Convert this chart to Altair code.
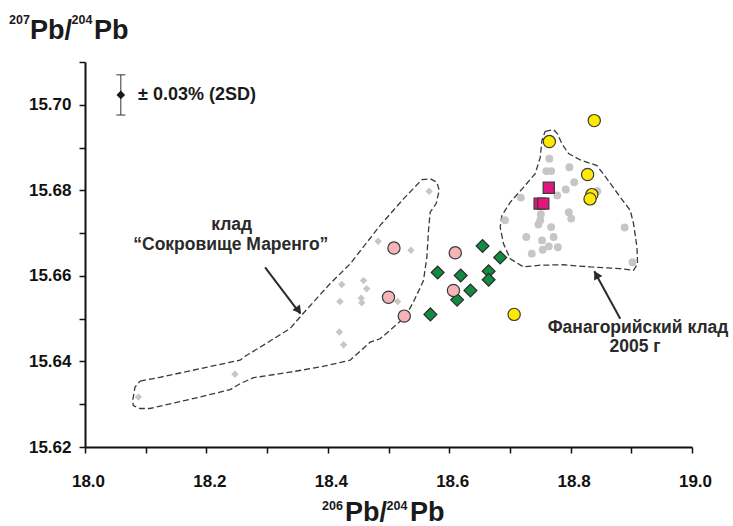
import altair as alt
import pandas as pd

FONT = "Liberation Sans"

# ---- Data ----
# Marengo treasure (grey diamonds)
mar_x = [18.567, 18.483, 18.537, 18.423, 18.459, 18.464, 18.420, 18.455, 18.456, 18.515, 18.419, 18.426, 18.247, 18.088]
mar_y = [15.6798, 15.6681, 15.6660, 15.6580, 15.6589, 15.6570, 15.6540, 15.6548, 15.6537, 15.6540, 15.6469, 15.6439, 15.6370, 15.6317]

# Phanagoria hoard 2005 (grey circles)
fan_x = [18.765, 18.760, 18.768, 18.798, 18.806, 18.792, 18.778, 18.718, 18.751, 18.750, 18.747, 18.797, 18.801,
         18.692, 18.768, 18.727, 18.772, 18.753, 18.764, 18.754, 18.779, 18.736, 18.889, 18.902, 18.844]
fan_y = [15.6874, 15.6845, 15.6845, 15.6854, 15.6819, 15.6802, 15.6788, 15.6783, 15.6744, 15.6730, 15.6720, 15.6749, 15.6734,
         15.6730, 15.6714, 15.6691, 15.6691, 15.6683, 15.6669, 15.6661, 15.6667, 15.6652, 15.6713, 15.6632, 15.6798]

# Pink circles
pink_x = [18.509, 18.610, 18.500, 18.607, 18.526]
pink_y = [15.6665, 15.6654, 15.6550, 15.6566, 15.6506]

# Green diamonds
green_x = [18.655, 18.684, 18.581, 18.619, 18.665, 18.665, 18.635, 18.613, 18.569]
green_y = [15.6670, 15.6643, 15.6608, 15.6601, 15.6611, 15.6591, 15.6566, 15.6544, 15.6510]

# Yellow circles
yel_x = [18.839, 18.765, 18.828, 18.835, 18.832, 18.707]
yel_y = [15.6963, 15.6914, 15.6837, 15.6790, 15.6780, 15.6510]

# Magenta squares
mag_x = [18.764, 18.749, 18.755]
mag_y = [15.6806, 15.6769, 15.6769]

# Outline of the Marengo field
mo_x = [18.0907, 18.1236, 18.1896, 18.2555, 18.2637, 18.2995, 18.3379, 18.3593, 18.4038, 18.4368, 18.4862, 18.5246,
        18.5550, 18.5686, 18.5797, 18.5835, 18.5785, 18.5686, 18.5659, 18.5632, 18.5576, 18.5411, 18.5274, 18.5027,
        18.4862, 18.4698, 18.4368, 18.3873, 18.3379, 18.2774, 18.2555, 18.2390, 18.1896, 18.1071, 18.0907, 18.0796,
        18.0786, 18.0824, 18.0907]
mo_y = [15.6354, 15.6363, 15.6383, 15.6403, 15.6412, 15.6443, 15.6477, 15.6512, 15.6582, 15.6628, 15.6718, 15.6780,
        15.6825, 15.6827, 15.6819, 15.6800, 15.6769, 15.6749, 15.6706, 15.6644, 15.6589, 15.6539, 15.6504, 15.6473,
        15.6453, 15.6445, 15.6403, 15.6387, 15.6375, 15.6362, 15.6348, 15.6334, 15.6317, 15.6290, 15.6290, 15.6297,
        15.6309, 15.6340, 15.6354]

# Outline of the Phanagoria field
fo_x = [18.7582, 18.7719, 18.7785, 18.7857, 18.7966, 18.8159, 18.8434, 18.8599, 18.8818, 18.8983, 18.9037, 18.9093,
        18.9103, 18.9037, 18.8818, 18.8324, 18.7884, 18.7500, 18.7224, 18.7005, 18.6895, 18.6840, 18.6868, 18.7005,
        18.7224, 18.7417, 18.7500, 18.7528, 18.7582]
fo_y = [15.6938, 15.6942, 15.6932, 15.6909, 15.6886, 15.6871, 15.6858, 15.6827, 15.6784, 15.6753, 15.6722, 15.6667,
        15.6628, 15.6613, 15.6617, 15.6621, 15.6626, 15.6625, 15.6621, 15.6640, 15.6675, 15.6714, 15.6741, 15.6772,
        15.6807, 15.6839, 15.6877, 15.6917, 15.6938]

# Arrows (start -> tip) and arrowhead centres
arr_x = [18.2967, 18.8818]
arr_y = [15.6620, 15.6500]
arr_x2 = [18.3544, 18.8390]
arr_y2 = [15.6512, 15.6611]
head1 = (18.3519, 15.6519)
head2 = (18.8423, 15.6603)

# Precision marker (+-0.03 %, 2SD)
err_x = [18.059]
err_y = [15.7023]
err_e = [0.0047]

x_ticks = [18.0, 18.1, 18.2, 18.3, 18.4, 18.5, 18.6, 18.7, 18.8, 18.9, 19.0]
y_ticks = [15.62, 15.63, 15.64, 15.65, 15.66, 15.67, 15.68, 15.69, 15.70, 15.71]

# ---- Scales / axes ----
xs = alt.Scale(domain=[18.0, 19.0], nice=False, zero=False)
ys = alt.Scale(domain=[15.62, 15.71], nice=False, zero=False)
xaxis = alt.Axis(values=x_ticks, title=None, grid=False, domainColor="#111", domainWidth=2,
                 tickColor="#111", tickWidth=1.5, tickSize=6, labelFont=FONT, labelFontSize=17,
                 labelFontWeight="bold", labelColor="#111", labelPadding=20, labelOverlap=False,
                 labelFlush=False, labelOffset=3,
                 labelExpr="round(datum.value*10) % 2 == 0 ? format(datum.value, '.1f') : ''")
yaxis = alt.Axis(values=y_ticks, title=None, grid=False, domainColor="#111", domainWidth=2,
                 tickColor="#111", tickWidth=1.5, tickSize=6, labelFont=FONT, labelFontSize=17,
                 labelFontWeight="bold", labelColor="#111", labelPadding=8, labelOverlap=False,
                 labelFlush=False,
                 labelExpr="round(datum.value*100) % 2 == 0 ? format(datum.value, '.2f') : ''")


def X(f):
    return alt.X(f, type="quantitative", scale=xs, axis=xaxis)


def Y(f):
    return alt.Y(f, type="quantitative", scale=ys, axis=yaxis)


def pts(xv, yv):
    return pd.DataFrame({"x": xv, "y": yv})


def outline(xv, yv):
    return pd.DataFrame({"x": xv, "y": yv, "i": list(range(len(xv)))})


layers = []

# outlines
for ox, oy in [(mo_x, mo_y), (fo_x, fo_y)]:
    layers.append(
        alt.Chart(outline(ox, oy)).mark_line(color="#3a3a3a", strokeWidth=1.3, strokeDash=[6, 3])
        .encode(x=X("x"), y=Y("y"), order=alt.Order("i:Q"))
    )

# grey fields
layers.append(alt.Chart(pts(mar_x, mar_y)).mark_point(shape="diamond", filled=True, size=55, color="#c6c6c6", opacity=1)
              .encode(x=X("x"), y=Y("y")))
layers.append(alt.Chart(pts(fan_x, fan_y)).mark_point(shape="circle", filled=True, size=62, color="#c6c6c6", opacity=1)
              .encode(x=X("x"), y=Y("y")))

# coloured samples
layers.append(alt.Chart(pts(green_x, green_y)).mark_point(shape="diamond", filled=True, size=165, fill="#138a42",
                                                          stroke="#2b2b2b", strokeWidth=1.2, opacity=1)
              .encode(x=X("x"), y=Y("y")))
layers.append(alt.Chart(pts(pink_x, pink_y)).mark_point(shape="circle", filled=True, size=150, fill="#f4b4b8",
                                                        stroke="#3a3a3a", strokeWidth=1.2, opacity=1)
              .encode(x=X("x"), y=Y("y")))
layers.append(alt.Chart(pts(yel_x, yel_y)).mark_point(shape="circle", filled=True, size=150, fill="#ffe900",
                                                      stroke="#3a3a3a", strokeWidth=1.2, opacity=1)
              .encode(x=X("x"), y=Y("y")))
layers.append(alt.Chart(pts(mag_x, mag_y)).mark_point(shape="square", filled=True, size=125, fill="#e2177e",
                                                      stroke="#3a3a3a", strokeWidth=1.2, opacity=1)
              .encode(x=X("x"), y=Y("y")))

# arrows
arr_df = pd.DataFrame({"x": arr_x, "y": arr_y, "x2": arr_x2, "y2": arr_y2})
layers.append(alt.Chart(arr_df).mark_rule(color="#2b2b2b", strokeWidth=2)
              .encode(x=X("x"), y=Y("y"), x2="x2:Q", y2="y2:Q"))
layers.append(alt.Chart(pts([head1[0]], [head1[1]])).mark_point(shape="triangle-up", filled=True, size=90,
                                                               color="#2b2b2b", opacity=1, angle=143)
              .encode(x=X("x"), y=Y("y")))
layers.append(alt.Chart(pts([head2[0]], [head2[1]])).mark_point(shape="triangle-up", filled=True, size=90,
                                                               color="#2b2b2b", opacity=1, angle=331)
              .encode(x=X("x"), y=Y("y")))

# precision marker
err_df = pd.DataFrame({"x": err_x, "y": err_y, "e": err_e})
err_base = alt.Chart(err_df).transform_calculate(lo="datum.y - datum.e", hi="datum.y + datum.e",
                                                  xl="datum.x - 0.0075", xr="datum.x + 0.0075")
layers.append(err_base.mark_rule(color="#333", strokeWidth=1).encode(x=X("x"), y=Y("lo:Q"), y2="hi:Q"))
layers.append(err_base.mark_rule(color="#333", strokeWidth=1).encode(x=X("xl:Q"), x2="xr:Q", y=Y("lo:Q")))
layers.append(err_base.mark_rule(color="#333", strokeWidth=1).encode(x=X("xl:Q"), x2="xr:Q", y=Y("hi:Q")))
layers.append(alt.Chart(err_df).mark_point(shape="diamond", filled=True, size=75, color="#1a1a1a", opacity=1)
              .encode(x=X("x"), y=Y("y")))

one = pd.DataFrame({"k": [0]})


def txt(s, px, py, size, align="left", baseline="alphabetic", color="#1a1a1a"):
    return alt.Chart(one).mark_text(text=s, font=FONT, fontWeight="bold", fontSize=size, align=align,
                                    baseline=baseline, color=color).encode(x=alt.value(px), y=alt.value(py))


# annotations
layers.append(txt("± 0.03% (2SD)", 53, 32.5, 18, baseline="middle"))
layers.append(txt("клад", 146.7, 163, 17.5, align="center", baseline="middle", color="#2a2a2a"))
layers.append(txt("“Сокровище Маренго”", 145.8, 183, 17.5, align="center", baseline="middle", color="#2a2a2a"))
layers.append(txt("Фанагорийский клад", 553, 266, 17.5, align="center", baseline="middle", color="#2a2a2a"))
layers.append(txt("2005 г", 550, 284.7, 17.5, align="center", baseline="middle", color="#2a2a2a"))

# axis titles with superscripts
y_title = ["207", "Pb/", "204", "Pb"]
x_title = ["206", "Pb/", "204", "Pb"]
layers.append(txt(y_title[0], -76, -38, 12.5))
layers.append(txt(y_title[1], -55, -23.5, 27))
layers.append(txt(y_title[2], -13.5, -38, 12.5))
layers.append(txt(y_title[3], 9, -23.5, 27))
layers.append(txt(x_title[0], 237, 448, 12.5))
layers.append(txt(x_title[1], 260, 459, 27))
layers.append(txt(x_title[2], 301.5, 448, 12.5))
layers.append(txt(x_title[3], 325, 459, 27))

chart = alt.layer(*layers).properties(
    width=607, height=385,
    autosize=alt.AutoSizeParams(type="none"),
    padding={"left": 85, "top": 62, "right": 41, "bottom": 79},
    background="white",
).configure_view(stroke=None)

chart.save("out.html", embed_options={"renderer": "svg", "actions": False})
